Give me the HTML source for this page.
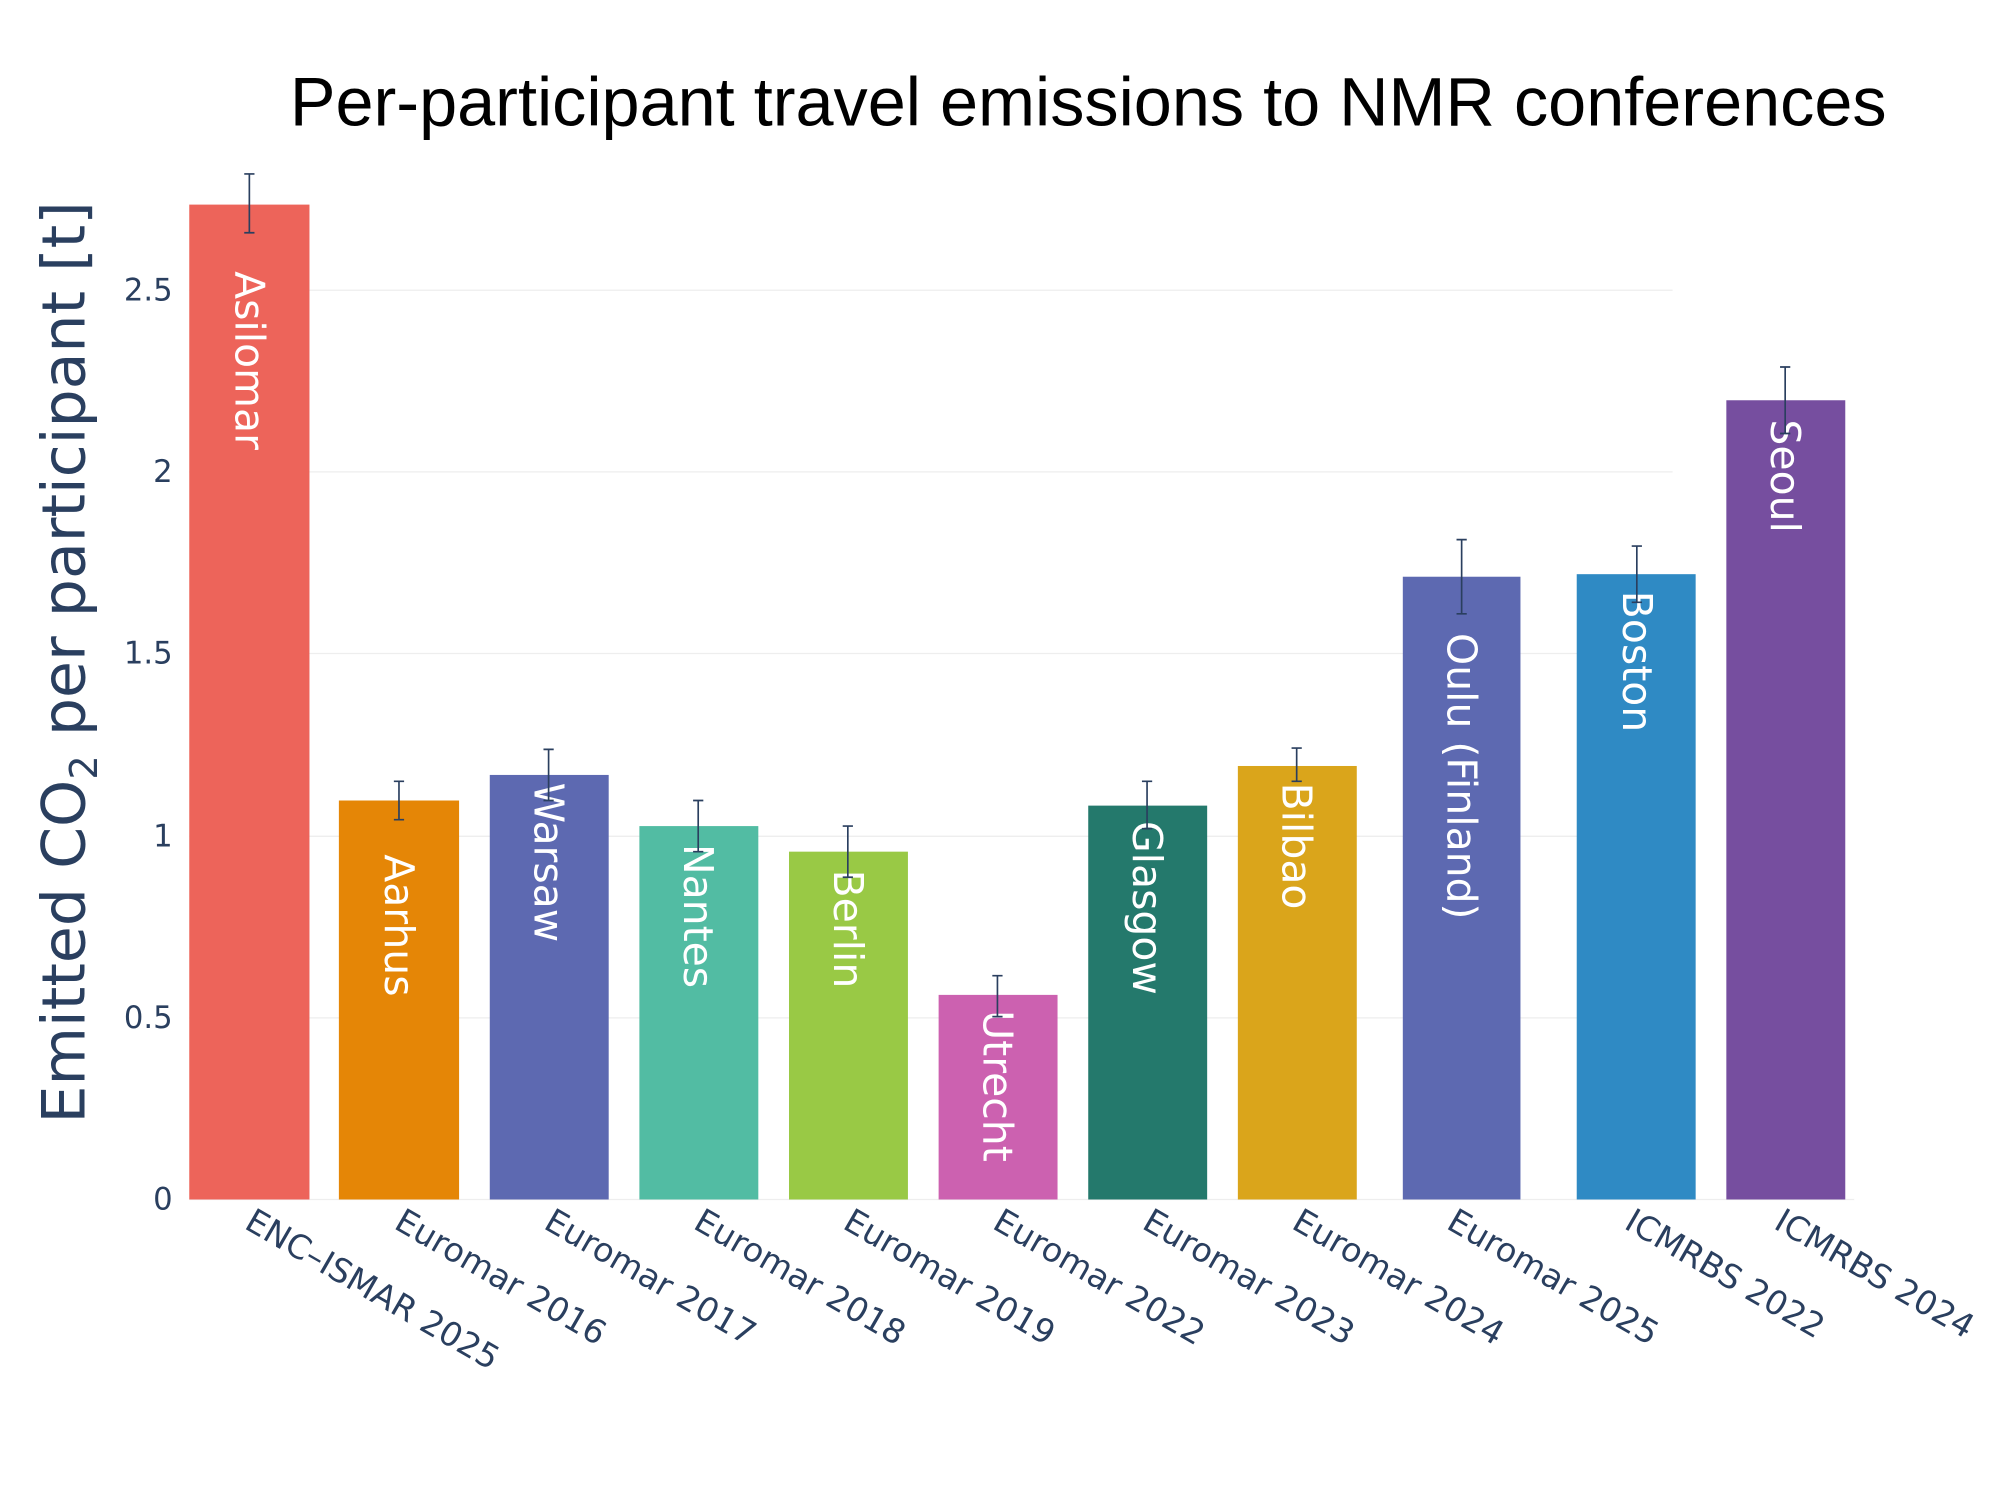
<!DOCTYPE html>
<html><head><meta charset="utf-8"><style>html,body{margin:0;padding:0;background:#fff}svg{display:block}</style></head>
<body>
<svg width="2000" height="1500" viewBox="0 0 1564 1173" xmlns="http://www.w3.org/2000/svg" font-family="'DejaVu Sans','Liberation Sans',sans-serif">
<rect width="1564" height="1173" fill="#fff"/>
<g stroke="#eeeeee" stroke-width="1">
<line x1="148" x2="1308" y1="796" y2="796"/>
<line x1="148" x2="1308" y1="654" y2="654"/>
<line x1="148" x2="1308" y1="511" y2="511"/>
<line x1="148" x2="1308" y1="369" y2="369"/>
<line x1="148" x2="1308" y1="227" y2="227"/>
<line x1="148" x2="1450" y1="938" y2="938"/>
</g>
<g fill="#2a3f5f" font-size="24" text-anchor="end">
<text x="135" y="946">0</text><text x="135" y="804">0.5</text><text x="135" y="662">1</text><text x="135" y="519">1.5</text><text x="135" y="377">2</text><text x="135" y="235">2.5</text>
</g>
<text x="851" y="98" font-family="'Liberation Sans',sans-serif" font-size="53.5" text-anchor="middle" fill="#000">Per-participant travel emissions to NMR conferences</text>
<text transform="translate(66,518) rotate(-90)" font-size="47" text-anchor="middle" fill="#2a3f5f">Emitted CO<tspan font-size="30" dy="10">2</tspan><tspan dy="-10"> per participant [t]</tspan></text>
<g>
<rect x="148" y="160" width="94" height="778" fill="#ED645A"/>
<rect x="265" y="626" width="94" height="312" fill="#E58606"/>
<rect x="383" y="606" width="93" height="332" fill="#5D69B1"/>
<rect x="500" y="646" width="93" height="292" fill="#52BCA3"/>
<rect x="617" y="666" width="93" height="272" fill="#99C945"/>
<rect x="734" y="778" width="93" height="160" fill="#CC61B0"/>
<rect x="851" y="630" width="93" height="308" fill="#24796C"/>
<rect x="968" y="599" width="93" height="339" fill="#DAA51B"/>
<rect x="1097" y="451" width="92" height="487" fill="#5D69B1"/>
<rect x="1233" y="449" width="93" height="489" fill="#2F8AC4"/>
<rect x="1350" y="313" width="93" height="625" fill="#764E9F"/>
</g>
<g fill="#fff" font-size="32" dominant-baseline="central">
<text transform="translate(195,212) rotate(90)">Asilomar</text>
<text transform="translate(312,668) rotate(90)">Aarhus</text>
<text transform="translate(429,612) rotate(90)">Warsaw</text>
<text transform="translate(546,660) rotate(90)">Nantes</text>
<text transform="translate(663,680) rotate(90)">Berlin</text>
<text transform="translate(780,790) rotate(90)">Utrecht</text>
<text transform="translate(897,642) rotate(90)">Glasgow</text>
<text transform="translate(1014,612) rotate(90)">Bilbao</text>
<text transform="translate(1143,495) rotate(90)">Oulu (Finland)</text>
<text transform="translate(1280,462) rotate(90)">Boston</text>
<text transform="translate(1396,328) rotate(90)">Seoul</text>
</g>
<g stroke="#2a3f5f" stroke-width="1.3" fill="none">
<path d="M195 136V182M191 136H199M191 182H199"/>
<path d="M312 611V641M308 611H316M308 641H316"/>
<path d="M429 586V626M425 586H433M425 626H433"/>
<path d="M546 626V666M542 626H550M542 666H550"/>
<path d="M663 646V686M659 646H667M659 686H667"/>
<path d="M780 763V795M776 763H784M776 795H784"/>
<path d="M897 611V648M893 611H901M893 648H901"/>
<path d="M1014 585V611M1010 585H1018M1010 611H1018"/>
<path d="M1143 422V480M1139 422H1147M1139 480H1147"/>
<path d="M1280 427V471M1276 427H1284M1276 471H1284"/>
<path d="M1396 287V339M1392 287H1400M1392 339H1400"/>
</g>
<g fill="#2a3f5f" font-size="26">
<text transform="translate(190,960) rotate(30)">ENC–ISMAR 2025</text>
<text transform="translate(307,960) rotate(30)">Euromar 2016</text>
<text transform="translate(424,960) rotate(30)">Euromar 2017</text>
<text transform="translate(541,960) rotate(30)">Euromar 2018</text>
<text transform="translate(658,960) rotate(30)">Euromar 2019</text>
<text transform="translate(775,960) rotate(30)">Euromar 2022</text>
<text transform="translate(892,960) rotate(30)">Euromar 2023</text>
<text transform="translate(1009,960) rotate(30)">Euromar 2024</text>
<text transform="translate(1130,960) rotate(30)">Euromar 2025</text>
<text transform="translate(1269,960) rotate(30)">ICMRBS 2022</text>
<text transform="translate(1386,960) rotate(30)">ICMRBS 2024</text>
</g>
</svg>
</body></html>
